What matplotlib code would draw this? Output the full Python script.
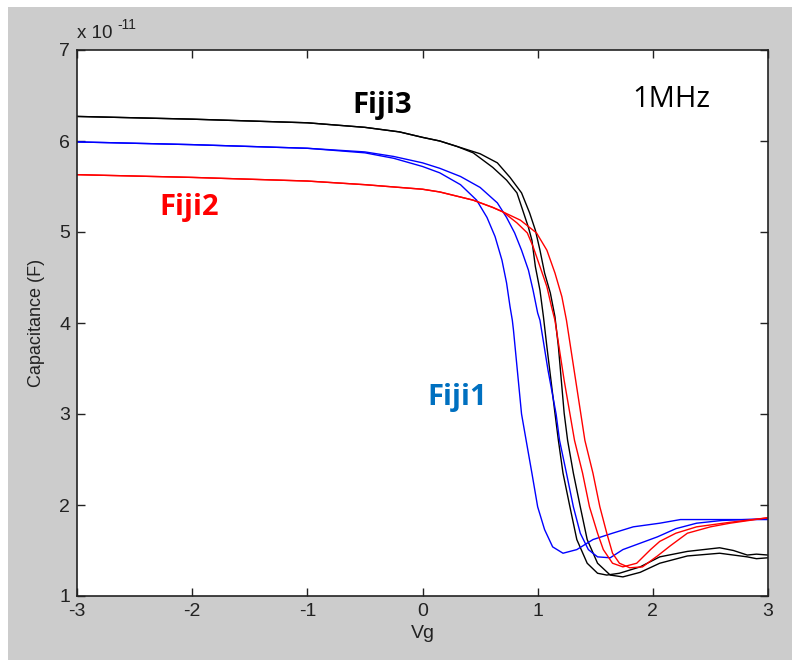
import matplotlib.pyplot as plt
from matplotlib.patches import Rectangle
from matplotlib.transforms import offset_copy

# C-V curves at 1 MHz, capacitance in units of 1e-11 F
# Fiji3 (black), two sweep branches
v_f3a = [-3, -2, -1, -0.5, -0.2, 0, 0.15, 0.30, 0.44, 0.61, 0.73, 0.82, 0.87, 0.92, 0.95, 0.98, 1.02, 1.05, 1.08, 1.15, 1.18, 1.22, 1.28, 1.34, 1.43, 1.52, 1.60, 1.71, 1.89, 2.06, 2.30, 2.58, 2.70, 2.82, 2.90, 3]
c_f3a = [6.27, 6.24, 6.20, 6.15, 6.10, 6.04, 6.00, 5.94, 5.87, 5.71, 5.57, 5.43, 5.24, 5.05, 4.91, 4.62, 4.36, 4.07, 3.74, 3.01, 2.71, 2.35, 1.98, 1.62, 1.36, 1.25, 1.23, 1.25, 1.32, 1.43, 1.49, 1.53, 1.50, 1.45, 1.46, 1.45]
v_f3b = [-3, -2, -1, -0.5, -0.2, 0, 0.15, 0.30, 0.50, 0.65, 0.76, 0.86, 0.93, 0.98, 1.02, 1.06, 1.11, 1.15, 1.18, 1.23, 1.26, 1.31, 1.37, 1.43, 1.52, 1.63, 1.74, 1.89, 2.06, 2.30, 2.58, 2.70, 2.82, 2.90, 3]
c_f3b = [6.27, 6.24, 6.20, 6.15, 6.10, 6.04, 6.00, 5.94, 5.86, 5.76, 5.60, 5.43, 5.21, 5.02, 4.80, 4.55, 4.33, 4.07, 3.74, 3.01, 2.71, 2.35, 1.98, 1.62, 1.36, 1.23, 1.21, 1.26, 1.36, 1.44, 1.47, 1.45, 1.43, 1.41, 1.42]

# Fiji1 (blue)
v_f1a = [-3, -2, -1, -0.5, -0.25, 0, 0.15, 0.33, 0.47, 0.56, 0.63, 0.69, 0.73, 0.76, 0.78, 0.79, 0.86, 0.90, 0.95, 1.00, 1.06, 1.13, 1.22, 1.34, 1.48, 1.65, 1.83, 2.06, 2.24, 2.50, 3]
c_f1a = [5.99, 5.96, 5.92, 5.87, 5.81, 5.72, 5.65, 5.52, 5.35, 5.16, 4.95, 4.69, 4.44, 4.18, 4.03, 3.92, 3.00, 2.71, 2.35, 1.98, 1.73, 1.54, 1.47, 1.51, 1.62, 1.69, 1.76, 1.80, 1.84, 1.84, 1.84]
v_f1b = [-3, -2, -1, -0.5, -0.25, 0, 0.15, 0.33, 0.50, 0.65, 0.73, 0.80, 0.86, 0.92, 0.96, 1.00, 1.02, 1.09, 1.16, 1.19, 1.25, 1.31, 1.37, 1.44, 1.52, 1.63, 1.74, 1.89, 2.04, 2.20, 2.38, 2.60, 3]
c_f1b = [5.99, 5.96, 5.92, 5.88, 5.83, 5.76, 5.70, 5.61, 5.49, 5.32, 5.16, 4.99, 4.80, 4.58, 4.36, 4.11, 4.03, 3.48, 3.00, 2.71, 2.35, 1.98, 1.69, 1.51, 1.43, 1.42, 1.51, 1.58, 1.65, 1.74, 1.80, 1.83, 1.85]

# Fiji2 (red)
v_f2a = [-3, -2, -1, -0.5, 0, 0.15, 0.44, 0.61, 0.70, 0.82, 0.91, 0.96, 1.02, 1.08, 1.12, 1.15, 1.23, 1.32, 1.39, 1.45, 1.52, 1.57, 1.65, 1.74, 1.86, 1.98, 2.06, 2.20, 2.38, 2.67, 3]
c_f2a = [5.63, 5.60, 5.56, 5.52, 5.47, 5.44, 5.35, 5.27, 5.22, 5.10, 4.99, 4.84, 4.62, 4.40, 4.18, 4.03, 3.37, 2.71, 2.35, 1.98, 1.69, 1.51, 1.36, 1.32, 1.36, 1.51, 1.60, 1.69, 1.76, 1.81, 1.86]
v_f2b = [-3, -2, -1, -0.5, 0, 0.15, 0.44, 0.61, 0.70, 0.85, 0.99, 1.08, 1.15, 1.21, 1.25, 1.33, 1.41, 1.48, 1.54, 1.60, 1.65, 1.71, 1.80, 1.91, 2.04, 2.15, 2.30, 2.50, 2.67, 3]
c_f2b = [5.63, 5.60, 5.56, 5.52, 5.47, 5.44, 5.35, 5.27, 5.22, 5.13, 4.99, 4.80, 4.55, 4.29, 4.03, 3.37, 2.71, 2.35, 1.98, 1.69, 1.47, 1.36, 1.31, 1.32, 1.44, 1.55, 1.69, 1.76, 1.80, 1.86]

xticks = [-3, -2, -1, 0, 1, 2, 3]
yticks = [1, 2, 3, 4, 5, 6, 7]

plt.rcParams['font.family'] = ['Liberation Sans', 'DejaVu Sans']

fig = plt.figure(figsize=(7.92, 6.6), dpi=100, facecolor='white')
# grey MATLAB figure background (screenshot has a thin white strip top/left)
fig.patches.append(Rectangle((8 / 792, 0), 1, 653 / 660, transform=fig.transFigure,
                             facecolor='#cccccc', edgecolor='none', zorder=-10))
ax = fig.add_axes([77 / 792, 64 / 660, 691 / 792, 546 / 660])

lw = 1.0
ax.plot(v_f3a, c_f3a, color='black', lw=lw)
ax.plot(v_f3b, c_f3b, color='black', lw=lw)
ax.plot(v_f1a, c_f1a, color='#0000ff', lw=lw)
ax.plot(v_f1b, c_f1b, color='#0000ff', lw=lw)
ax.plot(v_f2a, c_f2a, color='#ff0000', lw=lw)
ax.plot(v_f2b, c_f2b, color='#ff0000', lw=lw)

ax.set_xlim(-3, 3)
ax.set_ylim(1, 7)
ax.set_xticks(xticks)
ax.set_yticks(yticks)
ax.set_xticklabels([str(t) for t in xticks])
ax.set_yticklabels([str(t) for t in yticks])
ax.tick_params(direction='in', top=True, right=True, length=6, width=1,
               labelsize=14, pad=5, colors='#222222')
for s in ax.spines.values():
    s.set_linewidth(1.2)
    s.set_color('#222222')

ax.set_xlabel('Vg', fontsize=14, color='#222222', labelpad=4)
ax.set_ylabel('Capacitance (F)', fontsize=13, color='#222222', labelpad=10)

# MATLAB-style exponent label
ax.text(0.0, 1.015, 'x 10', transform=ax.transAxes, fontsize=13.5,
        color='#222222', ha='left', va='bottom')
ax.text(0.0, 1.015, '-11', fontsize=10, color='#222222', ha='left', va='bottom',
        transform=offset_copy(ax.transAxes, fig=fig, x=29, y=7, units='points'))

# annotations
lab = dict(family=['Open Sans', 'DejaVu Sans'], fontsize=21, ha='center', va='baseline')
ax.text(-0.35, 6.31, 'Fiji3', color='black', fontweight='bold', **lab)
ax.text(-2.03, 5.19, 'Fiji2', color='#ff0000', fontweight='bold', **lab)
ax.text(0.30, 3.10, 'Fiji1', color='#0070c0', fontweight='bold', **lab)
ax.text(2.16, 6.37, '1MHz', color='black', **lab)

fig.savefig('out.png', dpi=100, facecolor=fig.get_facecolor())
